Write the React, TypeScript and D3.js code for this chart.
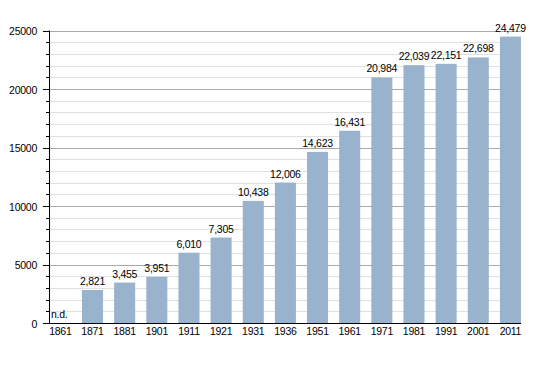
import React from "react";
import * as d3 from "d3";

const years = ["1861", "1871", "1881", "1901", "1911", "1921", "1931", "1936", "1951", "1961", "1971", "1981", "1991", "2001", "2011"];
const population: (number | null)[] = [null, 2821, 3455, 3951, 6010, 7305, 10438, 12006, 14623, 16431, 20984, 22039, 22151, 22698, 24479];
const majorTicks = [0, 5000, 10000, 15000, 20000, 25000];

const W = 550;
const H = 373;
const left = 49;
const right = 521;
const top = 30.5;
const bottom = 323;
const font = '"Liberation Sans", Arial, sans-serif';
const fs = 10.5;
const ls = -0.25;

const App = () => {
  const x = d3.scaleBand<string>()
    .domain(years)
    .range([44.3, 526.5])
    .paddingInner(0.345)
    .paddingOuter(0.1725);
  const y = d3.scaleLinear().domain([0, 25000]).range([bottom, top]);
  const minor = d3.range(0, 25001, 1000).filter((v) => v % 5000 !== 0);
  const fmt = d3.format(",");

  return (
    <svg width={W} height={H} style={{ position: "absolute", left: 0, top: 0 }}>
      <rect width={W} height={H} fill="white" />
      {/* grid */}
      {minor.map((v) => (
        <line key={"m" + v} x1={left} x2={right} y1={Math.round(y(v)) + 0.5} y2={Math.round(y(v)) + 0.5} stroke="#e0e0e0" />
      ))}
      {majorTicks.filter((v) => v > 0).map((v) => (
        <line key={"M" + v} x1={left} x2={right} y1={Math.round(y(v)) + 0.5} y2={Math.round(y(v)) + 0.5} stroke="#aaaaaa" />
      ))}
      {/* bars */}
      {years.map((yr, i) => {
        const v = population[i];
        if (v == null) return null;
        return (
          <rect key={yr} x={x(yr)} y={y(v)} width={x.bandwidth()} height={bottom - y(v)} fill="#9ab3cc" />
        );
      })}
      {/* value labels */}
      {years.map((yr, i) => {
        const v = population[i];
        const cx = (x(yr) as number) + x.bandwidth() / 2;
        if (v == null) {
          return (
            <text key={"l" + yr} x={left + 2} y={bottom - 5} fontFamily={font} fontSize={fs} letterSpacing={ls} fill="#000">n.d.</text>
          );
        }
        return (
          <text key={"l" + yr} x={cx} y={y(v) - 5} textAnchor="middle" fontFamily={font} fontSize={fs} letterSpacing={ls} fill="#000">{fmt(v)}</text>
        );
      })}
      {/* axes */}
      <line x1={left + 0.5} x2={left + 0.5} y1={top} y2={bottom} stroke="#000" />
      <line x1={45} x2={right} y1={bottom + 0.5} y2={bottom + 0.5} stroke="#000" />
      {majorTicks.map((v) => (
        <g key={"t" + v}>
          <line x1={43} x2={left} y1={Math.round(y(v)) + 0.5} y2={Math.round(y(v)) + 0.5} stroke="#000" />
          <text x={37} y={y(v) + 4.5} textAnchor="end" fontFamily={font} fontSize={fs} letterSpacing={ls} fill="#000">{v}</text>
        </g>
      ))}
      {minor.map((v) => (
        <line key={"mt" + v} x1={46} x2={left} y1={Math.round(y(v)) + 0.5} y2={Math.round(y(v)) + 0.5} stroke="#000" />
      ))}
      {years.map((yr) => (
        <text key={"x" + yr} x={(x(yr) as number) + x.bandwidth() / 2} y={bottom + 11.5} textAnchor="middle" fontFamily={font} fontSize={fs} letterSpacing={ls} fill="#000">{yr}</text>
      ))}
    </svg>
  );
};

export default App;
